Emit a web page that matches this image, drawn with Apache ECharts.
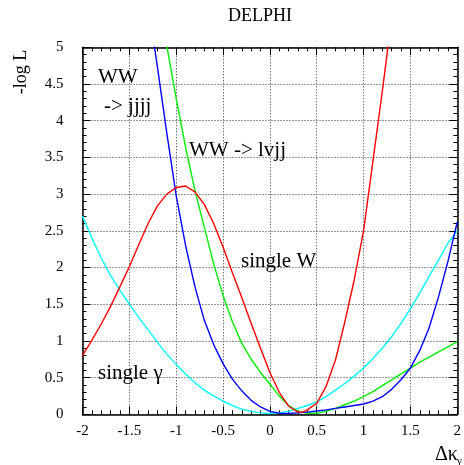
<!DOCTYPE html>
<html>
<head>
<meta charset="utf-8">
<script src="https://cdn.jsdelivr.net/npm/echarts@6/dist/echarts.min.js"></script>
<style>html,body{margin:0;padding:0;background:#fff}#c{width:464px;height:465px}</style>
</head>
<body>
<div id="c"></div>
<script>
// Data (x = Delta kappa_gamma, y = -log L)
var redX   = [-2.0,-1.9,-1.8,-1.7,-1.6,-1.5,-1.4,-1.3,-1.2,-1.1,-1.0,-0.9,-0.8,-0.7,-0.6,-0.5,-0.4,-0.3,-0.2,-0.1,0.0,0.1,0.2,0.3,0.35,0.4,0.5,0.6,0.7,0.8,0.9,1.0,1.1,1.2,1.3];
var redY   = [0.8,1.01,1.23,1.47,1.74,2.01,2.31,2.6,2.84,3.0,3.09,3.11,3.03,2.86,2.6,2.28,1.93,1.59,1.24,0.9,0.57,0.3,0.11,0.03,0.03,0.06,0.15,0.38,0.74,1.26,1.83,2.5,3.45,4.4,5.4];

var blueX  = [-1.3,-1.2,-1.1,-1.0,-0.9,-0.8,-0.7,-0.6,-0.5,-0.4,-0.3,-0.2,-0.1,0.0,0.1,0.2,0.3,0.4,0.5,0.6,0.7,0.8,0.9,1.0,1.1,1.2,1.3,1.4,1.5,1.6,1.7,1.8,1.9,2.0];
var blueY  = [5.6,4.73,3.83,2.98,2.3,1.74,1.28,0.95,0.69,0.48,0.32,0.19,0.1,0.04,0.015,0.01,0.02,0.03,0.045,0.06,0.08,0.1,0.12,0.14,0.18,0.24,0.34,0.47,0.63,0.87,1.18,1.6,2.08,2.62];

var greenX = [-1.2,-1.1,-1.0,-0.9,-0.8,-0.7,-0.6,-0.5,-0.4,-0.3,-0.2,-0.1,0.0,0.1,0.2,0.3,0.4,0.5,0.6,0.7,0.8,0.9,1.0,1.1,1.2,1.3,1.4,1.5,1.6,1.7,1.8,1.9,2.0];
var greenY = [5.75,5.02,4.3,3.64,3.05,2.55,2.05,1.62,1.26,0.97,0.75,0.57,0.41,0.25,0.12,0.04,0.015,0.015,0.04,0.08,0.13,0.18,0.24,0.31,0.39,0.47,0.55,0.63,0.71,0.78,0.85,0.92,0.99];

var cyanX  = [-2.0,-1.9,-1.8,-1.7,-1.6,-1.5,-1.4,-1.3,-1.2,-1.1,-1.0,-0.9,-0.8,-0.7,-0.6,-0.5,-0.4,-0.3,-0.2,-0.1,0.0,0.1,0.2,0.3,0.4,0.5,0.6,0.7,0.8,0.9,1.0,1.1,1.2,1.3,1.4,1.5,1.6,1.7,1.8,1.9,2.0];
var cyanY  = [2.7,2.4,2.13,1.89,1.69,1.5,1.32,1.15,0.98,0.82,0.68,0.55,0.43,0.33,0.25,0.18,0.12,0.07,0.04,0.02,0.01,0.02,0.04,0.08,0.12,0.17,0.24,0.33,0.42,0.52,0.63,0.76,0.9,1.06,1.24,1.44,1.65,1.88,2.1,2.33,2.5];

var xTicks = [-2,-1.5,-1,-0.5,0,0.5,1,1.5,2];
var yTicks = [0,0.5,1,1.5,2,2.5,3,3.5,4,4.5,5];

function pairs(xs, ys){ return xs.map(function(x,i){ return [x, ys[i]]; }); }

var FONT = '"Liberation Serif","Times New Roman",serif';
var chart = echarts.init(document.getElementById('c'), null, {renderer:'canvas'});

function axisCommon(showLabel, pos, isX){
  return {
    type:'value', position: pos,
    min: isX ? xTicks[0] : yTicks[0],
    max: isX ? xTicks[xTicks.length-1] : yTicks[yTicks.length-1],
    interval: 0.5,
    axisLine:{show:true, onZero:false, lineStyle:{color:'#000', width:1.5}},
    axisTick:{show:true, inside:true, length:8, lineStyle:{color:'#000', width:1}},
    minorTick:{show:true, splitNumber:5, length:4, lineStyle:{color:'#000', width:1}},
    splitLine:{show: showLabel, lineStyle:{color:'#333', type:[1,2], width:1}},
    axisLabel:{show: showLabel, color:'#000', fontFamily:FONT, fontSize:15, margin: isX ? 9 : 19,
      showMinLabel:true, showMaxLabel:true,
      formatter:function(v){ return String(Math.round(v*10)/10); }}
  };
}

var xa0 = axisCommon(true,'bottom',true);
var xa1 = axisCommon(false,'top',true);
var ya0 = axisCommon(true,'left',false);
var ya1 = axisCommon(false,'right',false);

function lineSeries(name, xs, ys, color){
  return {name:name, type:'line', data:pairs(xs,ys), showSymbol:false, symbol:'none',
    smooth:false, clip:true, lineStyle:{color:color, width:1.4, join:'round'}, xAxisIndex:0, yAxisIndex:0, z:3};
}

var option = {
  backgroundColor:'#fff',
  animation:false,
  grid:{left:82.5, top:47.3, width:380, height:367, containLabel:false},
  xAxis:[xa0, xa1],
  yAxis:[ya0, ya1],
  series:[
    lineSeries('single γ', cyanX, cyanY, '#00ffff'),
    lineSeries('WW -> lvjj', greenX, greenY, '#00ee00'),
    lineSeries('WW -> jjjj', blueX, blueY, '#0000ff'),
    lineSeries('single W', redX, redY, '#ff0000')
  ],
  graphic:[
    {type:'text', x:260, y:16, style:{text:'DELPHI', fontFamily:FONT, fontSize:18, fill:'#000', align:'center', verticalAlign:'middle'}},
    {type:'text', x:21, y:72, rotation:Math.PI/2, style:{text:'-log L', fontFamily:FONT, fontSize:18, fill:'#000', align:'center', verticalAlign:'middle'}},
    {type:'text', x:435, y:455, style:{text:'Δκ', fontFamily:FONT, fontSize:20, fill:'#000', align:'left', verticalAlign:'middle'}},
    {type:'text', x:457, y:461, style:{text:'γ', fontFamily:FONT, fontSize:11, fill:'#000', align:'left', verticalAlign:'middle'}},
    {type:'text', x:98, y:77, z:10, style:{text:'WW', fontFamily:FONT, fontSize:21, fill:'#000', align:'left', verticalAlign:'middle'}},
    {type:'text', x:104, y:106, z:10, style:{text:'-> jjjj', fontFamily:FONT, fontSize:21, fill:'#000', align:'left', verticalAlign:'middle'}},
    {type:'text', x:189, y:150, z:10, style:{text:'WW -> lvjj', fontFamily:FONT, fontSize:21, fill:'#000', align:'left', verticalAlign:'middle'}},
    {type:'text', x:241, y:261, z:10, style:{text:'single W', fontFamily:FONT, fontSize:21, fill:'#000', align:'left', verticalAlign:'middle'}},
    {type:'text', x:98, y:373, z:10, style:{text:'single γ', fontFamily:FONT, fontSize:21, fill:'#000', align:'left', verticalAlign:'middle'}}
  ]
};
chart.setOption(option);
</script>
</body>
</html>
